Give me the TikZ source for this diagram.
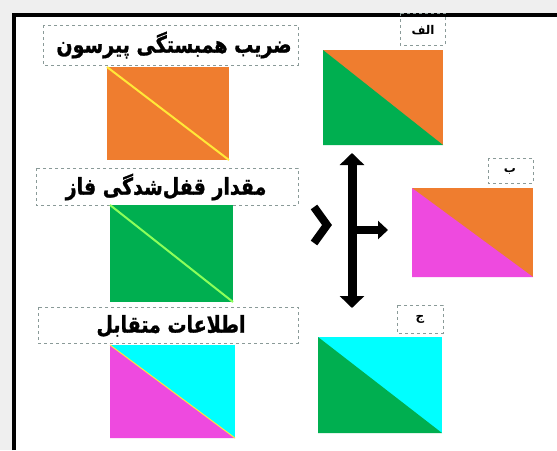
\documentclass[tikz,border=0pt]{standalone}
\usepackage{fontspec}
\usepackage{graphicx}
\usetikzlibrary{arrows.meta}
\TeXXeTstate=1
\newfontfamily\arabicfont[Script=Arabic,FakeBold=1.2]{DejaVu Sans Bold}
\newfontfamily\arabicsmall[Script=Arabic]{DejaVu Sans Bold}
\newcommand{\tallbox}[1]{\scalebox{1}[1.22]{#1}}
\definecolor{myorange}{HTML}{EF7D2F}
\definecolor{mygreen}{HTML}{00AF50}
\definecolor{mymagenta}{HTML}{EE4ADF}
\definecolor{mycyan}{HTML}{00FFFF}
\definecolor{myyellow}{HTML}{FFE838}
\definecolor{mylime}{HTML}{8CFF5A}
\definecolor{dashgray}{HTML}{8A9A98}
\definecolor{bggray}{HTML}{EFEFEF}
\tikzset{
  lblbox/.style={draw=dashgray, dashed, line width=0.8pt},
  bigtxt/.style={font=\arabicfont\fontsize{19}{22}\selectfont, inner sep=0pt},
  smalltxt/.style={font=\arabicsmall\fontsize{12}{14}\selectfont, inner sep=0pt},
  bighead/.tip={Triangle[width=24pt,length=12pt]},
  midhead/.tip={Triangle[width=18pt,length=10pt]},
}
\begin{document}
\begin{tikzpicture}[x=1pt,y=-1pt]
\useasboundingbox (0,0) rectangle (557,450);
\fill[bggray] (0,0) rectangle (557,450);
\fill[white] (14,15) rectangle (557,450);
\draw[line width=3.2pt] (14,450) -- (14,15) -- (557,15);

% left column
\draw[lblbox] (43,25) rectangle (298,65);
\node[bigtxt] (t1) at (174,45) {\tallbox{\beginR ضریب همبستگی پیرسون\endR}};
\fill[myorange] (107,67) rectangle (229,160);
\draw[myyellow, line width=2pt] (107,67) -- (229,160);

\draw[lblbox] (36,168) rectangle (298,205);
\node[bigtxt] (t2) at (166,187) {\tallbox{\beginR مقدار قفل‌شدگی فاز\endR}};
\fill[mygreen] (110,205) rectangle (233,302);
\draw[mylime, line width=2pt] (110,205) -- (233,302);

\draw[lblbox] (38,307) rectangle (298,343);
\node[bigtxt] (t3) at (171,326) {\tallbox{\beginR اطلاعات متقابل\endR}};
\fill[mycyan] (110,345) rectangle (235,438);
\fill[mymagenta] (110,345) -- (235,438) -- (110,438) -- cycle;
\draw[myyellow, line width=1pt] (110,345) -- (235,438);

% right column
\draw[lblbox] (400,13) rectangle (445,45);
\node[smalltxt] (la) at (423,30) {\beginR الف\endR};
\fill[myorange] (323,50) rectangle (443,145);
\fill[mygreen] (323,50) -- (443,145) -- (323,145) -- cycle;

\draw[lblbox] (488,158) rectangle (533,183);
\node[smalltxt] (lb) at (510,171) {\beginR ب\endR};
\fill[myorange] (412,188) rectangle (533,277);
\fill[mymagenta] (412,188) -- (533,277) -- (412,277) -- cycle;

\draw[lblbox] (397,305) rectangle (443,333);
\node[smalltxt] (lc) at (420,319) {\beginR ج\endR};
\fill[mycyan] (318,337) rectangle (442,433);
\fill[mygreen] (318,337) -- (442,433) -- (318,433) -- cycle;

% arrows
\coordinate (vtop) at (352,153);
\coordinate (vbot) at (352,308);
\coordinate (vmid) at (352,230);
\coordinate (hend) at (388,230);
\draw[line width=9pt, bighead-bighead] (vtop) -- (vbot);
\draw[line width=8pt, -midhead] (vmid) -- (hend);
\draw[line width=8pt, miter limit=10] (314,207) -- (327,225) -- (314,243);
\end{tikzpicture}
\end{document}
